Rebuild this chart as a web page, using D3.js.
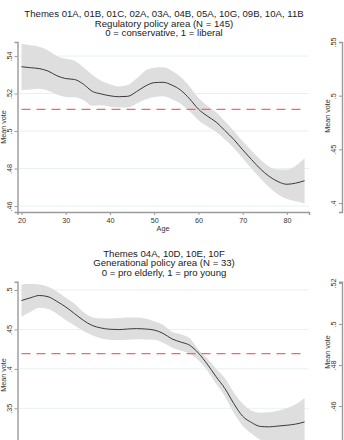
<!DOCTYPE html>
<html>
<head>
<meta charset="utf-8">
<script src="https://cdn.jsdelivr.net/npm/d3@7"></script>
<style>
  html, body { margin: 0; padding: 0; background: #fff; }
  svg { display: block; }
  text { font-family: "Liberation Sans", Arial, sans-serif; }
</style>
</head>
<body>
<svg id="chart" width="344" height="440"></svg>
<script>
// Smoothed mean vote by age with confidence band
const ages = [20,22,24,26,28,30,32,34,36,38,40,42,44,46,48,50,52,54,56,58,60,62,64,66,68,70,72,74,76,78,80,82,84];

// Regulatory policy area
const regMean  = [.5343,.5338,.5333,.5320,.5295,.5280,.5275,.5250,.5212,.5198,.5188,.5183,.5185,.5210,.5240,.5258,.5260,.5245,.5218,.5172,.5117,.5080,.5048,.5002,.4955,.4900,.4848,.4798,.4758,.4730,.4716,.4722,.4735];
const regUpper = [.5464,.5458,.5450,.5430,.5400,.5385,.5375,.5340,.5300,.5268,.5250,.5238,.5245,.5280,.5322,.5338,.5340,.5322,.5288,.5238,.5178,.5135,.5100,.5052,.5000,.4945,.4895,.4848,.4810,.4795,.4795,.4815,.4855];
const regLower = [.5218,.5222,.5225,.5215,.5195,.5182,.5180,.5165,.5135,.5138,.5130,.5125,.5125,.5145,.5168,.5182,.5185,.5170,.5146,.5105,.5058,.5025,.4995,.4955,.4910,.4855,.4800,.4748,.4700,.4662,.4638,.4625,.4614];
const regOverall = 0.5116;
const regTicks = [.46,.48,.5,.52,.54];

// Generational policy area
const genMean  = [.4867,.4900,.4930,.4915,.4855,.4785,.4700,.4615,.4550,.4518,.4502,.4498,.4505,.4510,.4505,.4492,.4450,.4380,.4340,.4300,.4200,.4060,.3900,.3750,.3560,.3400,.3320,.3270,.3265,.3275,.3285,.3300,.3327];
const genUpper = [.5070,.5075,.5070,.5040,.4980,.4900,.4825,.4720,.4655,.4640,.4640,.4645,.4650,.4650,.4640,.4605,.4560,.4470,.4440,.4390,.4245,.4130,.4000,.3880,.3700,.3560,.3470,.3445,.3450,.3470,.3500,.3550,.3632];
const genLower = [.4660,.4720,.4775,.4760,.4700,.4620,.4550,.4480,.4425,.4385,.4370,.4365,.4370,.4375,.4372,.4370,.4330,.4270,.4230,.4195,.4110,.3980,.3810,.3650,.3440,.3280,.3180,.3100,.3070,.3060,.3060,.3055,.3050];
const genOverall = 0.4194;
const genTicks = [.35,.4,.45,.5];

const ageTicks = [20,30,40,50,60,70,80];

// Neighbouring panels (axes only)
const rightTopTicks = [.4,.45,.5,.55];
const rightBotTicks = [.46,.48,.5,.52];

const regTitle = ["Themes 01A, 01B, 01C, 02A, 03A, 04B, 05A, 10G, 09B, 10A, 11B",
                  "Regulatory policy area (N = 145)",
                  "0 = conservative, 1 = liberal"];
const genTitle = ["Themes 04A, 10D, 10E, 10F",
                  "Generational policy area (N = 33)",
                  "0 = pro elderly, 1 = pro young"];

const svg = d3.select("#chart");
const fmt = v => d3.format(".2f")(v).replace(/^0/, "").replace(/0$/, "");

const AXIS = "#9a9a9a", GRID = "#eaf0f2", TXT = "#333";

const x = d3.scaleLinear().domain([19.1, 85]).range([17.5, 309]);

function panel(opts) {
  const {top, bottom, yDomain, ticks, mean, upper, lower, overall, title, showX, titleY} = opts;
  const y = d3.scaleLinear().domain(yDomain).range([bottom, top]);
  const g = svg.append("g");

  // title
  const t = g.append("text").attr("text-anchor", "middle").attr("fill", "#222")
    .attr("font-size", 9.6);
  title.forEach((line, i) => {
    t.append("tspan").attr("x", 164).attr("y", top - 25 + i * 9.6).text(line);
  });

  // grid
  g.append("g").selectAll("line").data(ticks).join("line")
    .attr("x1", 19).attr("x2", 309)
    .attr("y1", d => y(d)).attr("y2", d => y(d))
    .attr("stroke", GRID).attr("stroke-width", 1);

  // band
  const area = d3.area().x((d, i) => x(ages[i]))
    .y0((d, i) => y(lower[i])).y1((d, i) => y(upper[i]))
    .curve(d3.curveMonotoneX);
  g.append("path").datum(ages).attr("d", area).attr("fill", "#dedede");

  // overall mean reference
  g.append("line").attr("x1", 21.5).attr("x2", 305)
    .attr("y1", y(overall)).attr("y2", y(overall))
    .attr("stroke", "#ff6464").attr("stroke-width", 1.3)
    .attr("stroke-dasharray", "9,6");

  // smoothed mean
  const line = d3.line().x((d, i) => x(ages[i])).y((d, i) => y(mean[i]))
    .curve(d3.curveMonotoneX);
  g.append("path").datum(ages).attr("d", line)
    .attr("fill", "none").attr("stroke", "#3a3a3a").attr("stroke-width", 1);

  // y axis
  const ya = g.append("g").attr("transform", "translate(17.5,0)")
    .call(d3.axisLeft(y).tickValues(ticks).tickSize(3).tickFormat(fmt));
  styleAxis(ya);
  ya.selectAll(".tick text").attr("transform", "rotate(-90)")
    .attr("x", 0).attr("y", -6).attr("dy", 0).attr("text-anchor", "middle");
  g.append("text").attr("transform", `translate(5.5,${titleY}) rotate(-90)`)
    .attr("text-anchor", "middle").attr("font-size", 7.2).attr("fill", TXT).text("Mean vote");

  if (showX) {
    const xa = g.append("g").attr("transform", `translate(0,${bottom})`)
      .call(d3.axisBottom(x).tickValues(ageTicks).tickSize(3).tickFormat(d3.format("d")));
    styleAxis(xa);
    xa.selectAll(".tick text").attr("dy", 0).attr("y", 11);
    g.append("text").attr("x", 163).attr("y", bottom + 19).attr("text-anchor", "middle")
      .attr("font-size", 7.2).attr("fill", TXT).text("Age");
  } else {
    // plot frame continues below the visible area
    g.append("line").attr("x1", 17.5).attr("x2", 309)
      .attr("y1", bottom).attr("y2", bottom).attr("stroke", AXIS).attr("stroke-width", 1.4);
  }
}

function styleAxis(a) {
  a.select(".domain").attr("stroke", AXIS).attr("stroke-width", 1.4);
  a.selectAll(".tick line").attr("stroke", AXIS);
  a.selectAll(".tick text").attr("font-size", 7.2).attr("fill", TXT)
    .attr("font-family", "Liberation Sans, Arial, sans-serif");
}

function sideAxis(top, bottom, domain, ticks, titleY) {
  const y = d3.scaleLinear().domain(domain).range([bottom, top]);
  const g = svg.append("g");
  const ya = g.append("g").attr("transform", "translate(342,0)")
    .call(d3.axisLeft(y).tickValues(ticks).tickSize(3).tickFormat(fmt));
  styleAxis(ya);
  ya.selectAll(".tick text").attr("transform", "rotate(-90)")
    .attr("x", 0).attr("y", -6).attr("dy", 0).attr("text-anchor", "middle");
  g.append("text").attr("transform", `translate(330,${titleY}) rotate(-90)`)
    .attr("text-anchor", "middle").attr("font-size", 7.2).attr("fill", TXT).text("Mean vote");
}

panel({top: 42, bottom: 212, yDomain: [.4568, .5475], ticks: regTicks,
       mean: regMean, upper: regUpper, lower: regLower, overall: regOverall,
       title: regTitle, showX: true, titleY: 127});
panel({top: 281.7, bottom: 452, yDomain: [.2946, .5105], ticks: genTicks,
       mean: genMean, upper: genUpper, lower: genLower, overall: genOverall,
       title: genTitle, showX: false, titleY: 375});

sideAxis(42, 212, [.3916, .55], rightTopTicks, 116);
sideAxis(281.7, 452, [.4376, .5206], rightBotTicks, 352);
</script>
</body>
</html>
